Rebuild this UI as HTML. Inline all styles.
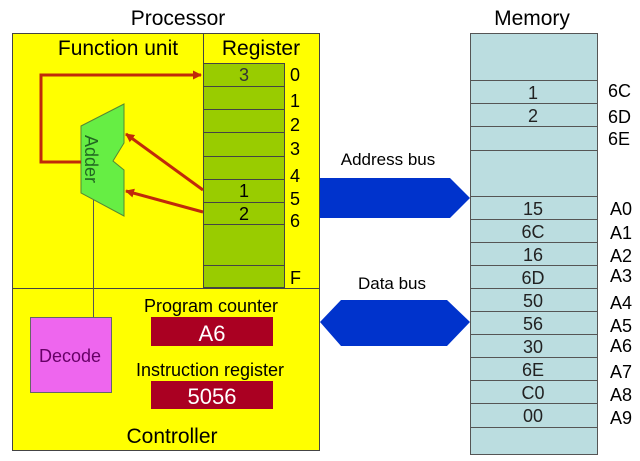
<!DOCTYPE html>
<html><head><style>body{margin:0;background:#fff}svg{display:block}text{font-family:"Liberation Sans",sans-serif}</style></head>
<body>
<svg width="640" height="461" viewBox="0 0 640 461" xmlns="http://www.w3.org/2000/svg">
<defs><marker id="ah" markerWidth="9" markerHeight="9" refX="8" refY="4.5" orient="auto" markerUnits="userSpaceOnUse"><path d="M0,0 L9,4.5 L0,9 z" fill="#c02a0a"/></marker></defs>
<text x="178" y="25" font-size="21" text-anchor="middle">Processor</text>
<text x="532" y="25" font-size="21" text-anchor="middle">Memory</text>
<rect x="12.5" y="33.5" width="307" height="417" fill="#ffff00" stroke="#444"/>
<line x1="203.5" y1="33" x2="203.5" y2="288" stroke="#444"/>
<line x1="12" y1="288.5" x2="319" y2="288.5" stroke="#444"/>
<text x="118" y="55" font-size="21" text-anchor="middle">Function unit</text>
<text x="261" y="55" font-size="21" text-anchor="middle">Register</text>
<rect x="203.5" y="63.5" width="81" height="224" fill="#99cc00" stroke="#444"/>
<g stroke="#444">
<line x1="203" y1="86.5" x2="284" y2="86.5"/><line x1="203" y1="109.5" x2="284" y2="109.5"/>
<line x1="203" y1="132.5" x2="284" y2="132.5"/><line x1="203" y1="156.5" x2="284" y2="156.5"/>
<line x1="203" y1="179.5" x2="284" y2="179.5"/><line x1="203" y1="202.5" x2="284" y2="202.5"/>
<line x1="203" y1="224.5" x2="284" y2="224.5"/><line x1="203" y1="265.5" x2="284" y2="265.5"/>
</g>
<g font-size="18" text-anchor="middle">
<text x="244" y="81" fill="#333">3</text><text x="244" y="197">1</text><text x="244" y="220">2</text>
</g>
<g font-size="18">
<text x="290" y="81">0</text><text x="290" y="107">1</text><text x="290" y="131">2</text>
<text x="290" y="155">3</text><text x="290" y="182">4</text><text x="290" y="205">5</text>
<text x="290" y="227">6</text><text x="290" y="284">F</text>
</g>
<line x1="93.5" y1="200" x2="93.5" y2="318" stroke="#555"/>
<polygon points="81,126 124,104 124,143 113,161 124,170 124,216 81,193" fill="#66ee44" stroke="#558833"/>
<text x="85" y="135" font-size="18" fill="#226622" transform="rotate(90 85 135)">Adder</text>
<polyline points="81,162 41,162 41,75 201,75" fill="none" stroke="#c02a0a" stroke-width="3" marker-end="url(#ah)"/>
<line x1="203" y1="190" x2="126" y2="134" stroke="#c02a0a" stroke-width="3" marker-end="url(#ah)"/>
<line x1="203" y1="212" x2="126" y2="191" stroke="#c02a0a" stroke-width="3" marker-end="url(#ah)"/>
<rect x="30.5" y="317.5" width="81" height="75" fill="#ee66ee" stroke="#666"/>
<text x="70" y="362" font-size="18" text-anchor="middle" fill="#660066">Decode</text>
<text x="211" y="312" font-size="18" text-anchor="middle">Program counter</text>
<rect x="151" y="317" width="122" height="29" fill="#aa0022"/>
<text x="212" y="341" font-size="22" text-anchor="middle" fill="#fff">A6</text>
<text x="210" y="376" font-size="18" text-anchor="middle">Instruction register</text>
<rect x="151" y="381" width="122" height="28" fill="#aa0022"/>
<text x="212" y="404" font-size="22" text-anchor="middle" fill="#fff">5056</text>
<text x="172" y="443" font-size="21" text-anchor="middle">Controller</text>
<text x="388" y="165" font-size="17" text-anchor="middle">Address bus</text>
<polygon points="320,178 450,178 470,198 450,218 320,218" fill="#0033cc"/>
<text x="392" y="289" font-size="17" text-anchor="middle">Data bus</text>
<polygon points="320,322 341,300 447,300 470,322 447,346 341,346" fill="#0033cc"/>
<rect x="470.5" y="33.5" width="127" height="421" fill="#bbdde0" stroke="#555"/>
<g stroke="#555">
<line x1="470" y1="80.5" x2="597" y2="80.5"/><line x1="470" y1="103.5" x2="597" y2="103.5"/>
<line x1="470" y1="126.5" x2="597" y2="126.5"/><line x1="470" y1="150.5" x2="597" y2="150.5"/>
<line x1="470" y1="196.5" x2="597" y2="196.5"/><line x1="470" y1="219.5" x2="597" y2="219.5"/>
<line x1="470" y1="242.5" x2="597" y2="242.5"/><line x1="470" y1="265.5" x2="597" y2="265.5"/>
<line x1="470" y1="288.5" x2="597" y2="288.5"/><line x1="470" y1="311.5" x2="597" y2="311.5"/>
<line x1="470" y1="334.5" x2="597" y2="334.5"/><line x1="470" y1="357.5" x2="597" y2="357.5"/>
<line x1="470" y1="380.5" x2="597" y2="380.5"/><line x1="470" y1="403.5" x2="597" y2="403.5"/>
<line x1="470" y1="427.5" x2="597" y2="427.5"/>
</g>
<g font-size="18" text-anchor="middle" fill="#222">
<text x="533" y="99">1</text><text x="533" y="122">2</text>
<text x="533" y="215">15</text><text x="533" y="238">6C</text><text x="533" y="261">16</text>
<text x="533" y="284">6D</text><text x="533" y="307">50</text><text x="533" y="330">56</text>
<text x="533" y="353">30</text><text x="533" y="376">6E</text><text x="533" y="399">C0</text>
<text x="533" y="422">00</text>
</g>
<g font-size="18">
<text x="608" y="97">6C</text><text x="608" y="123">6D</text><text x="608" y="145">6E</text>
<text x="610" y="215">A0</text><text x="610" y="239">A1</text><text x="610" y="262">A2</text>
<text x="610" y="282">A3</text><text x="610" y="309">A4</text><text x="610" y="332">A5</text>
<text x="610" y="352">A6</text><text x="610" y="378">A7</text><text x="610" y="401">A8</text>
<text x="610" y="424">A9</text>
</g>
</svg>
</body></html>
